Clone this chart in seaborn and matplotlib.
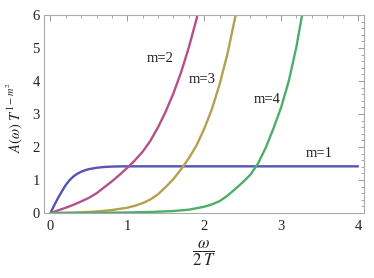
import numpy as np
import pandas as pd
import matplotlib
matplotlib.use("Agg")
import matplotlib.pyplot as plt
import seaborn as sns
from matplotlib.ticker import MultipleLocator

# m=1 (blue)
x_m1 = [0, 0.025, 0.05, 0.075, 0.10, 0.125, 0.15, 0.175, 0.20, 0.25, 0.30, 0.35, 0.40, 0.45, 0.50, 0.60, 0.70, 0.80, 0.90, 1.0, 1.5, 2.0, 2.5, 3.0, 3.5, 4.0]
y_m1 = [0, 0.12, 0.24, 0.35, 0.46, 0.56, 0.66, 0.76, 0.85, 1.00, 1.11, 1.19, 1.25, 1.295, 1.33, 1.37, 1.395, 1.407, 1.412, 1.414, 1.414, 1.414, 1.414, 1.414, 1.414, 1.414]
# m=2 (magenta)
x_m2 = [0, 0.1, 0.2, 0.3, 0.4, 0.5, 0.6, 0.7, 0.8, 0.9, 1.0, 1.1, 1.2, 1.3, 1.4, 1.5, 1.6, 1.7, 1.8, 1.9, 1.92]
y_m2 = [0, 0.08, 0.16, 0.25, 0.35, 0.46, 0.60, 0.78, 0.96, 1.16, 1.37, 1.60, 1.86, 2.19, 2.60, 3.08, 3.63, 4.27, 5.02, 5.88, 6.1]
# m=3 (yellow)
x_m3 = [0, 0.2, 0.4, 0.6, 0.8, 1.0, 1.1, 1.2, 1.3, 1.4, 1.5, 1.6, 1.7, 1.8, 1.9, 2.0, 2.1, 2.2, 2.3, 2.4, 2.42]
y_m3 = [0, 0.005, 0.02, 0.045, 0.09, 0.16, 0.22, 0.30, 0.41, 0.57, 0.79, 1.03, 1.33, 1.66, 2.05, 2.55, 3.15, 3.90, 4.80, 5.90, 6.1]
# m=4 (green)
x_m4 = [0, 0.5, 1.0, 1.3, 1.6, 1.8, 2.0, 2.1, 2.2, 2.3, 2.4, 2.5, 2.6, 2.7, 2.8, 2.9, 3.0, 3.1, 3.2, 3.28]
y_m4 = [0, 0.003, 0.015, 0.03, 0.06, 0.10, 0.19, 0.26, 0.36, 0.52, 0.72, 0.93, 1.16, 1.50, 1.98, 2.56, 3.20, 4.00, 5.05, 6.1]

series_names = ["m=1", "m=2", "m=3", "m=4"]
colors = ["#5454b4", "#b4508c", "#b4a050", "#4cae6a"]
label_x = [3.49, 1.43, 1.97, 2.82]
label_y = [1.80, 4.68, 4.06, 3.45]
x_ticks = [0, 1, 2, 3, 4]
y_ticks = [0, 1, 2, 3, 4, 5, 6]

frames = []
for name, xs, ys in zip(series_names, [x_m1, x_m2, x_m3, x_m4], [y_m1, y_m2, y_m3, y_m4]):
    frames.append(pd.DataFrame({"x": xs, "y": ys, "m": name}))
df = pd.concat(frames, ignore_index=True)

sns.set_theme(style="white")
plt.rcParams["font.family"] = ["Liberation Serif", "DejaVu Serif"]
plt.rcParams["mathtext.fontset"] = "stix"

fig = plt.figure(figsize=(3.74, 2.78), dpi=100)
ax = fig.add_axes([44/374, 1-213/278, 320/374, 198/278])

sns.lineplot(data=df, x="x", y="y", hue="m", palette=dict(zip(series_names, colors)),
             estimator=None, sort=False, linewidth=1.7, legend=False, ax=ax)

for name, lx, ly in zip(series_names, label_x, label_y):
    ax.text(lx, ly, name, ha="center", va="center", fontsize=10.5, color="#222222")

ax.set_xlim(-0.084, 4.078)
ax.set_ylim(0, 6)
ax.set_xticks(x_ticks)
ax.set_yticks(y_ticks)
ax.xaxis.set_minor_locator(MultipleLocator(0.2))
ax.yaxis.set_minor_locator(MultipleLocator(0.2))
ax.tick_params(which="both", direction="in", top=True, right=True, color="#999999",
               labelsize=10.5, labelcolor="#222222")
ax.tick_params(which="major", length=4, width=0.7)
ax.tick_params(which="minor", length=2, width=0.6)
ax.tick_params(axis="x", pad=5)
ax.tick_params(axis="y", pad=3)
for s in ax.spines.values():
    s.set_color("#aaaaaa")
    s.set_linewidth(0.8)

ax.set_xlabel(r"$\dfrac{\omega}{2\;T}$", fontsize=12, color="#222222", labelpad=4)
ax.set_ylabel(r"$A(\omega)\;T^{1-m^2}$", fontsize=10.5, color="#222222")
ax.yaxis.set_label_coords(-0.058, 0.48)

fig.savefig("out.png", dpi=100)
